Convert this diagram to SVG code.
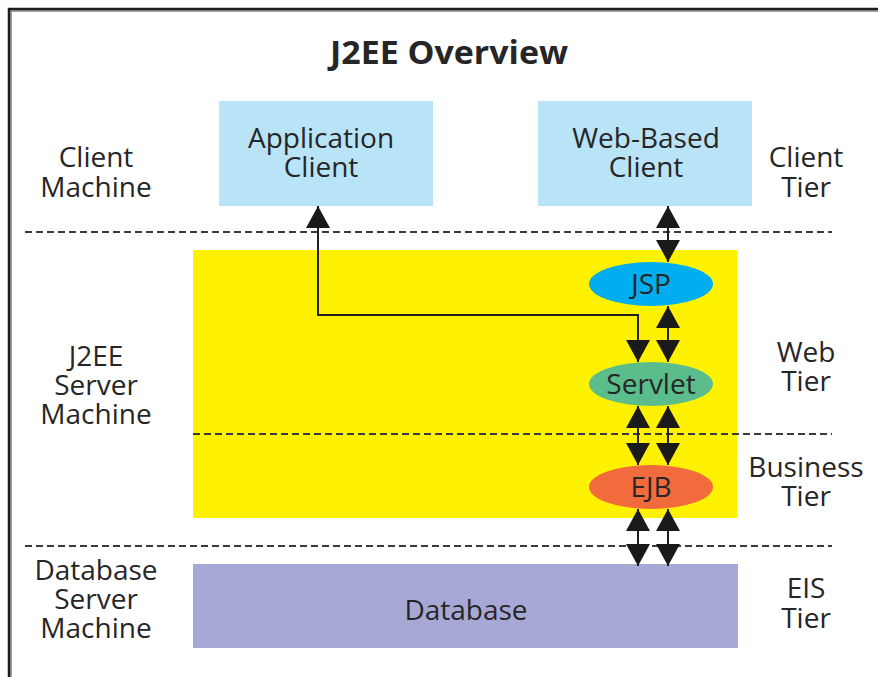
<svg xmlns="http://www.w3.org/2000/svg" width="878" height="677" viewBox="0 0 878 677">
  <style>
    text { font-family: "Open Sans", "Liberation Sans", sans-serif; fill: #262626; text-anchor: middle; }
    .lbl { font-size: 28px; }
    .title { font-size: 32px; font-weight: bold; }
    .dash { stroke: #3a3a3a; stroke-width: 2; stroke-dasharray: 7 4; fill: none; }
    .wire { stroke: #231f20; stroke-width: 2; fill: none; }
  </style>
  <defs>
    <marker id="head" viewBox="0 0 22 24" refX="22" refY="12" markerWidth="22" markerHeight="24" markerUnits="userSpaceOnUse" orient="auto-start-reverse">
      <path d="M0,0 L22,12 L0,24 Z" fill="#1a1a1a"/>
    </marker>
  </defs>

  <!-- page and frame -->
  <rect x="0" y="0" width="878" height="677" fill="#ffffff"/>
  <path d="M11,677 V11 H878" fill="none" stroke="#a0a0a0" stroke-width="2"/>
  <path d="M9,677 V9 H878" fill="none" stroke="#1e1e1e" stroke-width="2.5"/>

  <text class="title" x="449" y="64" textLength="238" lengthAdjust="spacingAndGlyphs">J2EE Overview</text>

  <!-- side labels -->
  <g id="machine-labels">
    <text class="lbl" x="96" y="167">Client<tspan x="96" dy="30">Machine</tspan></text>
    <text class="lbl" x="96" y="366">J2EE<tspan x="96" dy="29">Server</tspan><tspan x="96" dy="29">Machine</tspan></text>
    <text class="lbl" x="96" y="580">Database<tspan x="96" dy="29">Server</tspan><tspan x="96" dy="29">Machine</tspan></text>
  </g>
  <g id="tier-labels">
    <text class="lbl" x="806" y="167">Client<tspan x="806" dy="30">Tier</tspan></text>
    <text class="lbl" x="806" y="362">Web<tspan x="806" dy="29">Tier</tspan></text>
    <text class="lbl" x="806" y="477">Business<tspan x="806" dy="29">Tier</tspan></text>
    <text class="lbl" x="806" y="598">EIS<tspan x="806" dy="30">Tier</tspan></text>
  </g>

  <!-- J2EE server area -->
  <g id="server">
    <rect x="193" y="250" width="544" height="268" fill="#fff200"/>
  </g>

  <!-- tier separators -->
  <g id="separators">
    <line class="dash" x1="25" y1="232" x2="832" y2="232"/>
    <line class="dash" x1="193" y1="434" x2="832" y2="434"/>
    <line class="dash" x1="25" y1="546" x2="832" y2="546"/>
  </g>

  <g id="app-client">
    <rect x="219" y="101" width="214" height="105" fill="#b9e3f7"/>
    <text class="lbl" x="321" y="148">Application<tspan x="321" dy="29">Client</tspan></text>
  </g>

  <g id="web-client">
    <rect x="538" y="101" width="214" height="105" fill="#b9e3f7"/>
    <text class="lbl" x="646" y="148">Web-Based<tspan x="646" dy="29">Client</tspan></text>
  </g>

  <g id="jsp">
    <ellipse cx="651" cy="284" rx="62" ry="22" fill="#00aeef"/>
    <text class="lbl" x="651" y="294">JSP</text>
  </g>

  <g id="servlet">
    <ellipse cx="651" cy="384" rx="62" ry="22" fill="#5cbd8c"/>
    <text class="lbl" x="651" y="394">Servlet</text>
  </g>

  <g id="ejb">
    <ellipse cx="651" cy="487" rx="62" ry="22" fill="#f26b3d"/>
    <text class="lbl" x="651" y="497">EJB</text>
  </g>

  <g id="database">
    <rect x="193" y="564" width="545" height="84" fill="#a8a8d6"/>
    <text class="lbl" x="466" y="620">Database</text>
  </g>

  <!-- connectors -->
  <g id="connectors">
    <path class="wire" d="M638,362 V315 H318 V206" marker-start="url(#head)" marker-end="url(#head)"/>
    <line class="wire" x1="668" y1="206" x2="668" y2="262" marker-start="url(#head)" marker-end="url(#head)"/>
    <line class="wire" x1="668" y1="306" x2="668" y2="362" marker-start="url(#head)" marker-end="url(#head)"/>
    <line class="wire" x1="638" y1="406" x2="638" y2="465" marker-start="url(#head)" marker-end="url(#head)"/>
    <line class="wire" x1="668" y1="406" x2="668" y2="465" marker-start="url(#head)" marker-end="url(#head)"/>
    <line class="wire" x1="638" y1="509" x2="638" y2="566" marker-start="url(#head)" marker-end="url(#head)"/>
    <line class="wire" x1="668" y1="509" x2="668" y2="566" marker-start="url(#head)" marker-end="url(#head)"/>
  </g>
</svg>
